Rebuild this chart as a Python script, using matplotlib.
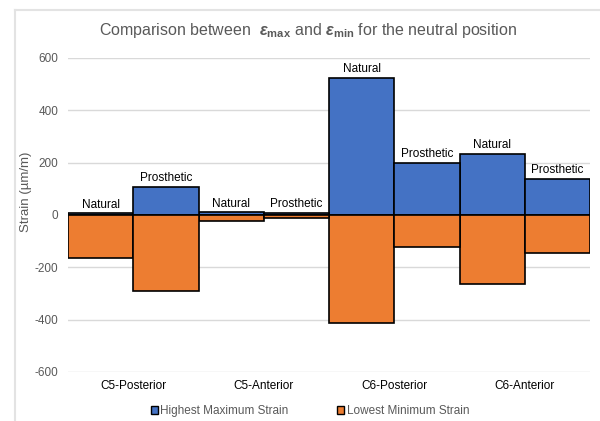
import numpy as np
import matplotlib
matplotlib.use("Agg")
import matplotlib.pyplot as plt
from matplotlib.patches import Rectangle
from matplotlib.lines import Line2D

plt.rcParams['font.family'] = ['Liberation Sans', 'DejaVu Sans']
plt.rcParams['mathtext.fontset'] = 'custom'
plt.rcParams['mathtext.rm'] = 'Liberation Sans'
plt.rcParams['mathtext.bf'] = 'Liberation Sans:bold'
plt.rcParams['mathtext.it'] = 'Liberation Sans:italic'
plt.rcParams['mathtext.bfit'] = 'Liberation Sans:bold:italic'

# data
locations = ['C5-Posterior', 'C5-Anterior', 'C6-Posterior', 'C6-Anterior']
conditions = ['Natural', 'Prosthetic']
max_natural = [6, 10, 525, 233]
max_prosthetic = [108, 8, 200, 139]
min_natural = [-165, -23, -411, -264]
min_prosthetic = [-290, -13, -123, -144]
yticks = [-600, -400, -200, 0, 200, 400, 600]

blue = '#4472C4'
orange = '#ED7D31'
grey = '#595959'

fig = plt.figure(figsize=(6, 4.21), dpi=100)
ax = fig.add_axes([68 / 600, 1 - 372 / 421, 522 / 600, 314 / 421])

x = np.arange(len(locations))
w = 0.5
offsets = [-0.25, 0.25]
maxes = [max_natural, max_prosthetic]
mins = [min_natural, min_prosthetic]

for off, mx, mn, name in zip(offsets, maxes, mins, conditions):
    ax.bar(x + off, mx, width=w, color=blue, edgecolor='black', linewidth=1.2, zorder=3)
    ax.bar(x + off, mn, width=w, color=orange, edgecolor='black', linewidth=1.2, zorder=3)
    for xi, v in zip(x + off, mx):
        ax.annotate(name, (xi, v), xytext=(0, 2), textcoords='offset points',
                    ha='center', va='bottom', fontsize=8.5, color='black')

ax.set_xlim(-0.5, len(locations) - 0.5)
ax.set_ylim(-600, 600)
ax.set_yticks(yticks)
ax.set_yticklabels([str(t) for t in yticks], color=grey, fontsize=8.5)
ax.set_xticks(x)
ax.set_xticklabels(locations, fontsize=8.5, color='black')
ax.tick_params(axis='both', length=0)
ax.tick_params(axis='y', pad=7)
ax.tick_params(axis='x', pad=6)
ax.grid(axis='y', color='#d9d9d9', linewidth=1, zorder=0)
for s in ax.spines.values():
    s.set_visible(False)

fig.text(26 / 600, 1 - 192 / 421, 'Strain (µm/m)', rotation=90, ha='center', va='center',
         color=grey, fontsize=9.5)

fig.text(308 / 600, 1 - 30 / 421,
         r'Comparison between  $\mathbfit{\varepsilon}_{\mathbf{max}}$ and $\mathbfit{\varepsilon}_{\mathbf{min}}$ for the neutral position',
         ha='center', va='center', color=grey, fontsize=11.5)

# chart frame
fig.add_artist(Line2D([15 / 600, 15 / 600], [0, 1 - 10 / 421], transform=fig.transFigure,
                      color='#e3e3e3', linewidth=1.5))
fig.add_artist(Line2D([15 / 600, 1], [1 - 10 / 421, 1 - 10 / 421], transform=fig.transFigure,
                      color='#e3e3e3', linewidth=1.5))

handles = [Rectangle((0, 0), 1, 1, facecolor=blue, edgecolor='black', linewidth=1),
           Rectangle((0, 0), 1, 1, facecolor=orange, edgecolor='black', linewidth=1)]
leg = fig.legend(handles, ['Highest Maximum Strain', 'Lowest Minimum Strain'],
                 loc='center', bbox_to_anchor=(310 / 600, 1 - 411 / 421), ncol=2,
                 frameon=False, fontsize=8.5, handlelength=0.6, handleheight=0.6,
                 handletextpad=0.2, columnspacing=4.1)
for t in leg.get_texts():
    t.set_color(grey)

fig.savefig('out.png', dpi=100)
